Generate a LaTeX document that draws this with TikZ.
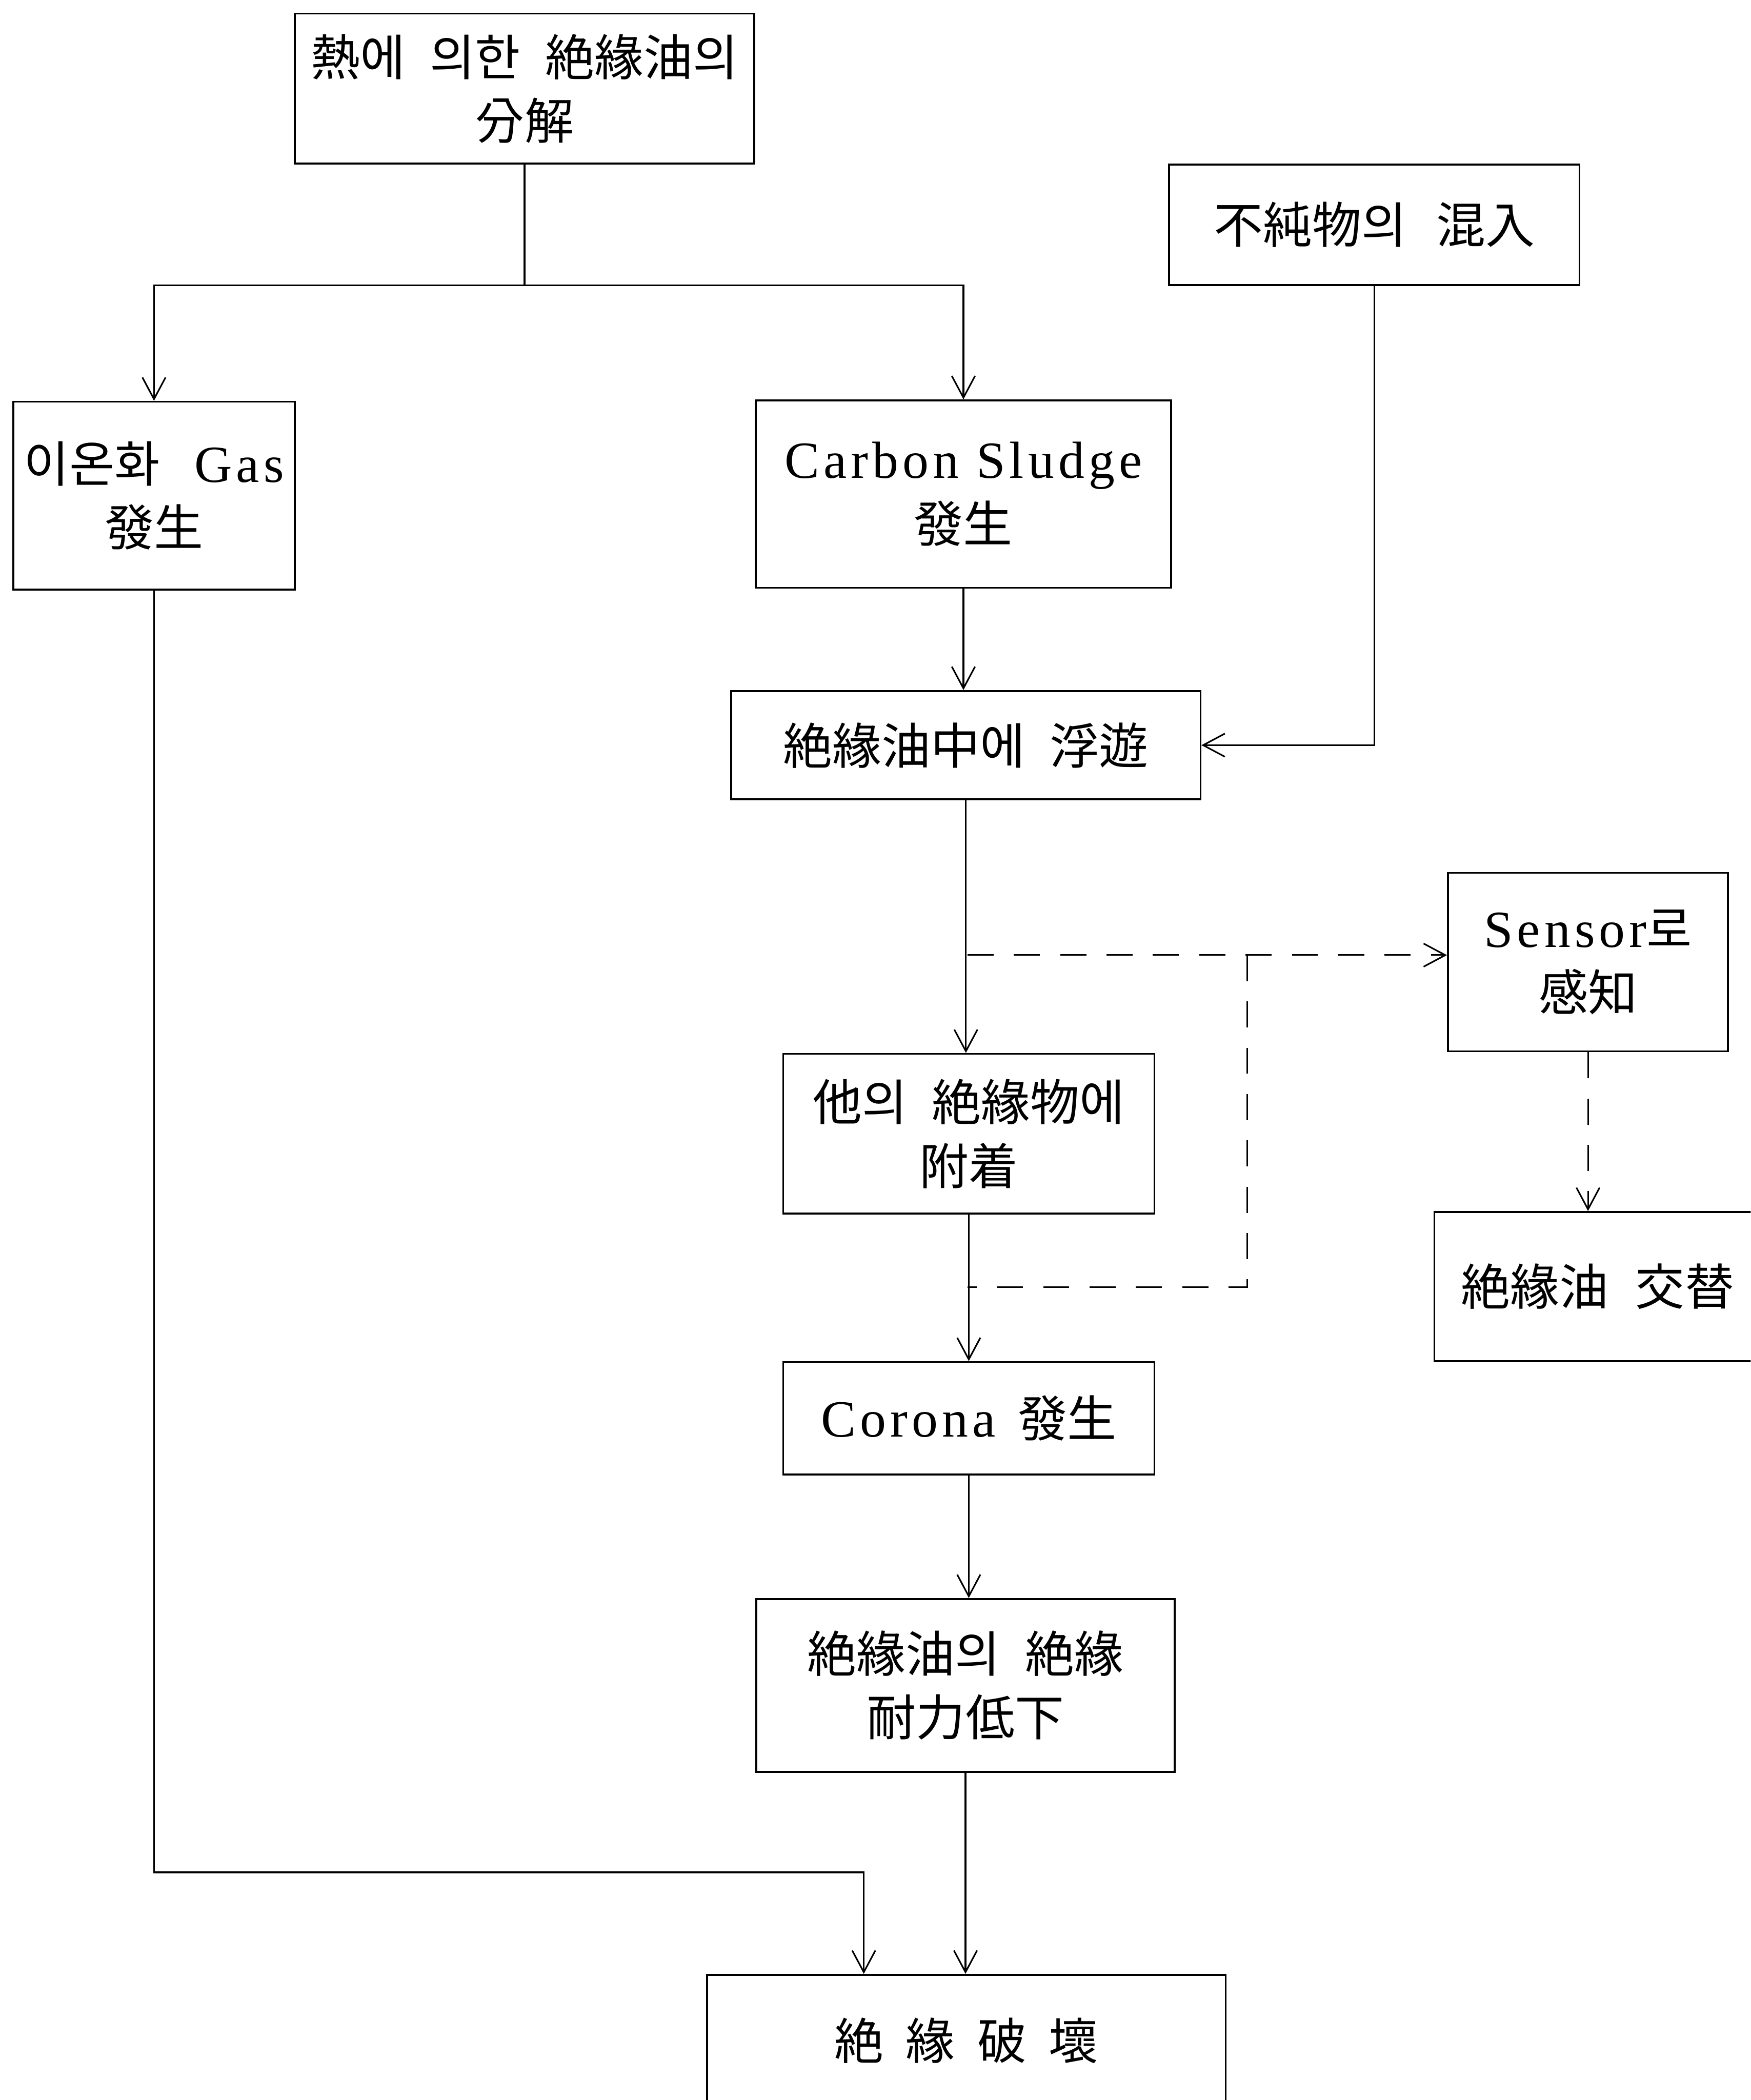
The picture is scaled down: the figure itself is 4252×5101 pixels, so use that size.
\documentclass[tikz,border=0pt]{standalone}
\usepackage{fontspec}
\setmainfont{Liberation Serif}[LetterSpace=8,Scale=1.06]
\newfontfamily\cjk{Noto Sans CJK KR}
\usetikzlibrary{arrows.meta}
\newcommand\wgap{\hspace{0.5em}}
\newcommand\lat[1]{{\rmfamily #1}}
\begin{document}
\begin{tikzpicture}[x=0.01cm,y=-0.01cm,
  box/.style={draw, line width=1.3pt, align=center, inner sep=0pt,
    font=\cjk\fontsize{34}{44}\selectfont},
  conn/.style={line width=1.1pt},
  arr/.style={conn, -{Straight Barb[length=15pt,width=16pt]}},
  dsh/.style={dash pattern=on 18pt off 14pt}]
\clip (0,0) rectangle (4252,5101);
\fill[white] (0,0) rectangle (4252,5101);

\node[box, minimum width=11.16cm, minimum height=3.64cm] (A) at (1274,215)
  {熱에\wgap 의한\wgap 絶緣油의\\分解};
\node[box, minimum width=9.96cm, minimum height=2.93cm] (B) at (3338,546)
  {不純物의\hspace{0.6em}混入};
\node[box, minimum width=6.83cm, minimum height=4.56cm] (C) at (374,1204)
  {이온화\hspace{0.7em}\lat{Gas}\\發生};
\node[box, minimum width=10.08cm, minimum height=4.55cm] (D) at (2340,1200)
  {\lat{Carbon Sludge}\\發生};
\node[box, minimum width=11.39cm, minimum height=2.63cm] (E) at (2346,1810)
  {絶緣油中에\wgap 浮遊};
\node[box, minimum width=6.80cm, minimum height=4.33cm] (F) at (3857,2337)
  {\lat{Sensor}로\\感知};
\node[box, minimum width=9.01cm, minimum height=3.88cm] (G) at (2353,2754)
  {他의\wgap 絶緣物에\\附着};
\node[box, minimum width=7.92cm, minimum height=3.62cm] (H) at (3880,3125)
  {絶緣油\hspace{0.55em}交替};
\node[box, minimum width=9.01cm, minimum height=2.73cm] (I) at (2353,3445)
  {\lat{Corona}\hspace{0.45em}發生};
\node[box, minimum width=10.15cm, minimum height=4.20cm] (J) at (2345,4094)
  {絶緣油의\wgap 絶緣\\耐力低下};
\node[box, minimum width=12.59cm, minimum height=3.20cm] (K) at (2347,4957)
  {絶\hspace{0.45em}緣\hspace{0.45em}破\hspace{0.45em}壞};

% thermal decomposition split
\coordinate (jA) at (1274,693);
\draw[conn] (A.south) -- (jA);
\draw[arr] (jA) -| (C.north);
\draw[arr] (jA) -| (D.north);

% gas path to breakdown
\coordinate (bCK) at (2098,4548);
\draw[arr] (C.south) |- (bCK) -- (bCK |- K.north);

% main spine
\draw[arr] (D.south) -- (D.south |- E.north);
\draw[arr] (B.south) |- (E.east);
\draw[arr] (E.south) -- (E.south |- G.north);
\draw[arr] (G.south) -- (G.south |- I.north);
\draw[arr] (I.south) -- (I.south |- J.north);
\draw[arr] (J.south) -- (J.south |- K.north);

% sensor (dashed)
\coordinate (d1) at (2350,2320);
\coordinate (d2) at (3029,2320);
\coordinate (d3) at (3029,3126);
\coordinate (d4) at (2350,3126);
\draw[arr, dsh] (d1) -- (d1 -| F.west);
\draw[conn, dsh] (d2) -- (d3) -- (d4);
\draw[arr, dsh] (F.south) -- (F.south |- H.north);
\end{tikzpicture}
\end{document}
